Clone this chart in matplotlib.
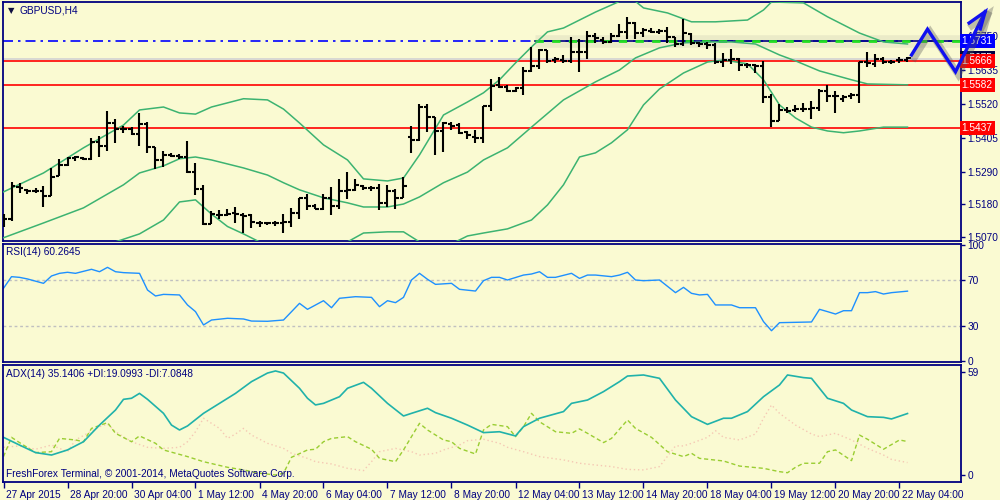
"""
GBPUSD H4 chart in the MetaTrader 4 style: OHLC bars with Bollinger bands,
RSI(14) and ADX(14) sub windows.
"""

import numpy as np
import matplotlib
matplotlib.use('Agg')  # Non-interactive backend
import matplotlib.pyplot as plt
import matplotlib.patheffects as pe
import matplotlib.transforms as mtrans

# ---- price bars (one per H4 bar, index 0 = 27 Apr 12:00) ----
opens = [
    1.5127, 1.5131, 1.5239, 1.5229, 1.5226, 1.5226, 1.5209, 1.5276, 1.5313, 1.5337,
    1.5337, 1.5334, 1.5391, 1.5378, 1.5455, 1.5435, 1.5435, 1.5418, 1.5452, 1.5374,
    1.5330, 1.5347, 1.5344, 1.5340, 1.5289, 1.5232, 1.5113, 1.5144, 1.5144, 1.5151,
    1.5144, 1.5144, 1.5117, 1.5117, 1.5117, 1.5117, 1.5120, 1.5151, 1.5202, 1.5175,
    1.5164, 1.5202, 1.5175, 1.5226, 1.5229, 1.5243, 1.5236, 1.5236, 1.5185, 1.5226,
    1.5202, 1.5408, 1.5398, 1.5509, 1.5475, 1.5428, 1.5452, 1.5448, 1.5425, 1.5408,
    1.5405, 1.5513, 1.5584, 1.5577, 1.5564, 1.5574, 1.5631, 1.5648, 1.5702, 1.5668,
    1.5668, 1.5665, 1.5695, 1.5695, 1.5749, 1.5736, 1.5729, 1.5749, 1.5763, 1.5793,
    1.5759, 1.5766, 1.5763, 1.5766, 1.5746, 1.5722, 1.5756, 1.5726, 1.5722, 1.5719,
    1.5661, 1.5668, 1.5671, 1.5651, 1.5651, 1.5648, 1.5543, 1.5462, 1.5499, 1.5499,
    1.5502, 1.5502, 1.5506, 1.5564, 1.5547, 1.5536, 1.5547, 1.5550, 1.5661, 1.5655,
    1.5671, 1.5661, 1.5668, 1.5668]
highs = [
    1.5147, 1.5256, 1.5253, 1.5232, 1.5236, 1.5243, 1.5303, 1.5334, 1.5340, 1.5344,
    1.5340, 1.5405, 1.5412, 1.5496, 1.5469, 1.5445, 1.5441, 1.5489, 1.5458, 1.5374,
    1.5361, 1.5354, 1.5350, 1.5395, 1.5320, 1.5246, 1.5158, 1.5161, 1.5164, 1.5171,
    1.5151, 1.5147, 1.5124, 1.5120, 1.5124, 1.5147, 1.5168, 1.5202, 1.5215, 1.5181,
    1.5215, 1.5239, 1.5266, 1.5289, 1.5266, 1.5246, 1.5243, 1.5249, 1.5246, 1.5232,
    1.5272, 1.5445, 1.5519, 1.5519, 1.5475, 1.5458, 1.5458, 1.5455, 1.5428, 1.5432,
    1.5513, 1.5604, 1.5611, 1.5584, 1.5577, 1.5644, 1.5712, 1.5705, 1.5702, 1.5678,
    1.5685, 1.5746, 1.5739, 1.5766, 1.5759, 1.5746, 1.5759, 1.5790, 1.5814, 1.5797,
    1.5776, 1.5776, 1.5773, 1.5780, 1.5746, 1.5807, 1.5759, 1.5729, 1.5729, 1.5726,
    1.5692, 1.5705, 1.5675, 1.5658, 1.5655, 1.5665, 1.5553, 1.5519, 1.5509, 1.5516,
    1.5523, 1.5530, 1.5570, 1.5584, 1.5564, 1.5550, 1.5557, 1.5661, 1.5695, 1.5688,
    1.5678, 1.5668, 1.5678, 1.5678]
lows = [
    1.5103, 1.5124, 1.5219, 1.5215, 1.5219, 1.5171, 1.5209, 1.5276, 1.5310, 1.5327,
    1.5330, 1.5330, 1.5340, 1.5361, 1.5388, 1.5422, 1.5415, 1.5378, 1.5354, 1.5300,
    1.5306, 1.5340, 1.5334, 1.5286, 1.5212, 1.5110, 1.5113, 1.5131, 1.5141, 1.5117,
    1.5084, 1.5100, 1.5103, 1.5110, 1.5107, 1.5084, 1.5103, 1.5131, 1.5161, 1.5164,
    1.5161, 1.5144, 1.5164, 1.5198, 1.5226, 1.5229, 1.5226, 1.5161, 1.5171, 1.5164,
    1.5202, 1.5354, 1.5395, 1.5425, 1.5347, 1.5357, 1.5432, 1.5418, 1.5401, 1.5388,
    1.5388, 1.5496, 1.5574, 1.5560, 1.5560, 1.5550, 1.5627, 1.5638, 1.5658, 1.5658,
    1.5658, 1.5658, 1.5627, 1.5671, 1.5726, 1.5722, 1.5726, 1.5746, 1.5739, 1.5739,
    1.5746, 1.5759, 1.5756, 1.5726, 1.5712, 1.5715, 1.5719, 1.5712, 1.5705, 1.5655,
    1.5644, 1.5655, 1.5631, 1.5641, 1.5624, 1.5523, 1.5441, 1.5462, 1.5489, 1.5492,
    1.5492, 1.5469, 1.5496, 1.5526, 1.5489, 1.5526, 1.5536, 1.5523, 1.5644, 1.5644,
    1.5655, 1.5655, 1.5658, 1.5661]
closes = [
    1.5131, 1.5243, 1.5236, 1.5226, 1.5226, 1.5209, 1.5272, 1.5313, 1.5337, 1.5340,
    1.5334, 1.5391, 1.5378, 1.5455, 1.5435, 1.5435, 1.5418, 1.5452, 1.5374, 1.5330,
    1.5347, 1.5344, 1.5340, 1.5289, 1.5232, 1.5113, 1.5147, 1.5144, 1.5147, 1.5147,
    1.5141, 1.5120, 1.5117, 1.5117, 1.5117, 1.5120, 1.5151, 1.5202, 1.5175, 1.5164,
    1.5202, 1.5175, 1.5226, 1.5229, 1.5246, 1.5236, 1.5236, 1.5185, 1.5226, 1.5202,
    1.5243, 1.5398, 1.5509, 1.5475, 1.5428, 1.5455, 1.5445, 1.5422, 1.5415, 1.5405,
    1.5513, 1.5580, 1.5577, 1.5564, 1.5574, 1.5631, 1.5648, 1.5702, 1.5665, 1.5671,
    1.5665, 1.5695, 1.5695, 1.5749, 1.5742, 1.5729, 1.5749, 1.5763, 1.5793, 1.5759,
    1.5770, 1.5763, 1.5766, 1.5746, 1.5722, 1.5759, 1.5726, 1.5722, 1.5719, 1.5661,
    1.5668, 1.5671, 1.5651, 1.5651, 1.5648, 1.5543, 1.5462, 1.5499, 1.5496, 1.5502,
    1.5502, 1.5506, 1.5564, 1.5547, 1.5547, 1.5543, 1.5550, 1.5661, 1.5658, 1.5671,
    1.5661, 1.5661, 1.5668, 1.5675]

# ---- Bollinger bands, read at selected bars ----
bb_up_bar = [0, 5, 10, 15, 17, 20, 22, 24, 26, 30, 33, 35, 37, 40, 43, 45, 48, 50, 52, 55,
             58, 60, 62, 64, 66, 68, 70, 72, 74, 77, 79, 80, 83, 86, 89, 93, 95, 96, 100, 103,
             107, 110, 113]
bb_up = [1.5222, 1.5286, 1.5371, 1.5448, 1.5499, 1.5509, 1.5489, 1.5485, 1.5509, 1.5537,
         1.5533, 1.5502, 1.5455, 1.5381, 1.5330, 1.5266, 1.5259, 1.5269, 1.5347, 1.5482,
         1.5526, 1.5557, 1.5601, 1.5658, 1.5712, 1.5763, 1.5776, 1.5803, 1.5830, 1.5866,
         1.5866, 1.5844, 1.5827, 1.5797, 1.5797, 1.5803, 1.5837, 1.5864, 1.5861, 1.5814,
         1.5759, 1.5729, 1.5722]
bb_mid_bar = [0, 5, 10, 15, 17, 20, 22, 24, 26, 30, 33, 35, 37, 40, 43, 45, 48, 50, 52, 55,
              58, 60, 63, 66, 70, 74, 77, 79, 82, 85, 88, 91, 94, 97, 99, 102, 106, 108, 113]
bb_mid = [1.5067, 1.5117, 1.5168, 1.5246, 1.5286, 1.5310, 1.5334, 1.5340, 1.5330, 1.5303,
          1.5279, 1.5253, 1.5229, 1.5202, 1.5185, 1.5171, 1.5171, 1.5181, 1.5205, 1.5253,
          1.5289, 1.5330, 1.5371, 1.5441, 1.5533, 1.5594, 1.5634, 1.5675, 1.5709, 1.5726,
          1.5729, 1.5729, 1.5722, 1.5685, 1.5665, 1.5631, 1.5601, 1.5587, 1.5584]
bb_lo_bar = [0, 5, 10, 14, 17, 20, 22, 24, 26, 28, 30, 32, 36, 40, 43, 45, 48, 50, 52, 55,
             58, 60, 63, 66, 68, 70, 72, 74, 76, 78, 80, 82, 85, 88, 90, 93, 95, 97, 99, 101,
             103, 105, 107, 110, 113]
bb_lo = [1.4985, 1.5009, 1.5026, 1.5053, 1.5080, 1.5127, 1.5188, 1.5195, 1.5147, 1.5105,
         1.5080, 1.5053, 1.5026, 1.5033, 1.5053, 1.5083, 1.5087, 1.5087, 1.5053, 1.5033,
         1.5073, 1.5083, 1.5097, 1.5127, 1.5178, 1.5246, 1.5340, 1.5354, 1.5388, 1.5432,
         1.5516, 1.5570, 1.5624, 1.5661, 1.5668, 1.5655, 1.5601, 1.5516, 1.5472, 1.5441,
         1.5428, 1.5422, 1.5428, 1.5441, 1.5441]

# ---- horizontal levels ----
red_levels = [1.5666, 1.5582, 1.5437]
blue_level = 1.5731
bid_level = 1.5672
bid_label = 1.5675
price_ticks = [1.5070, 1.5180, 1.5290, 1.5405, 1.5520, 1.5635, 1.5750]

# hand drawn zigzag arrow (bar index, price)
arrow_bar = [113.5, 115.5, 119.0, 122.7]
arrow_price = [1.5685, 1.5772, 1.5628, 1.5831]
arrow_head_bar = [120.7, 122.7, 122.1]
arrow_head_price = [1.5793, 1.5831, 1.5773]

# ---- RSI(14) ----
rsi_bar = [0, 1, 2, 3, 5, 6, 7, 8, 9, 11, 12, 13, 14, 15, 17, 18, 19, 20, 22, 23,
           24, 25, 26, 28, 30, 31, 33, 35, 37, 38, 40, 41, 42, 44, 46, 47, 48, 49, 50, 51,
           52, 53, 54, 56, 57, 59, 60, 61, 62, 63, 65, 66, 67, 68, 69, 71, 72, 73, 74, 76,
           77, 78, 79, 80, 82, 84, 85, 86, 87, 88, 89, 91, 92, 94, 95, 96, 97, 101, 102, 103,
           104, 105, 106, 107, 108, 109, 110, 111, 113]
rsi_val = [62.8, 72.9, 72.3, 70.9, 67.1, 73.5, 75.8, 76.7, 75.8, 79.3,
           77.2, 81.0, 77.2, 76.4, 75.8, 61.3, 56.1, 57.5, 57.0, 48.3,
           42.5, 30.9, 35.2, 36.7, 36.1, 34.3, 34.1, 35.2, 49.7, 44.5,
           52.0, 45.9, 54.1, 55.5, 54.9, 46.8, 52.0, 50.3, 54.9, 70.0,
           75.8, 70.6, 66.2, 67.1, 61.9, 60.4, 69.4, 72.3, 72.3, 70.0,
           74.3, 75.2, 77.2, 72.3, 72.3, 75.8, 71.4, 74.3, 74.3, 72.9,
           74.3, 76.7, 70.0, 69.4, 70.0, 59.0, 63.6, 58.4, 57.0, 57.5,
           48.3, 48.3, 45.9, 45.9, 33.8, 25.9, 32.9, 33.5, 44.5, 42.5,
           40.4, 43.3, 43.3, 59.0, 59.0, 59.9, 57.8, 59.0, 60.3]
rsi_levels = [30, 70]

# ---- ADX(14), +DI, -DI ----
adx_bar = [0, 2, 4, 6, 8, 10, 12, 14, 15, 16, 17, 18, 20, 21, 22, 23, 25, 27, 29, 31,
           33, 34, 35, 37, 38, 39, 40, 42, 43, 45, 46, 48, 50, 51, 53, 54, 56, 58, 60, 62,
           64, 65, 67, 70, 71, 73, 75, 77, 78, 80, 82, 84, 86, 88, 90, 91, 93, 95, 97, 98,
           100, 101, 103, 105, 106, 108, 110, 111, 113]
adx_val = [21.5, 17.1, 12.8, 11.4, 14.3, 19.0, 28.5, 37.1, 43.2, 43.8,
           46.6, 43.2, 35.2, 28.5, 25.7, 28.0, 35.2, 40.9, 46.6, 53.3,
           58.2, 59.4, 58.2, 49.5, 43.8, 40.0, 40.9, 44.7, 49.5, 52.9,
           49.5, 40.9, 33.7, 35.2, 38.1, 35.6, 32.4, 28.5, 24.2, 24.7,
           22.3, 27.6, 32.4, 36.2, 40.9, 42.8, 47.6, 53.3, 56.5, 57.1,
           55.2, 42.8, 33.3, 28.9, 32.4, 32.4, 36.2, 44.7, 51.4, 57.1,
           55.6, 55.2, 43.8, 40.9, 37.1, 33.3, 32.9, 32.0, 35.1]
pdi_bar = [0, 1, 2, 4, 6, 7, 9, 10, 11, 13, 14, 16, 17, 19, 20, 23, 25, 28, 30, 32,
           34, 35, 36, 38, 39, 40, 41, 43, 44, 46, 47, 49, 50, 52, 53, 55, 56, 57, 59, 60,
           61, 63, 64, 65, 66, 67, 69, 71, 72, 73, 75, 76, 78, 79, 81, 83, 85, 86, 87, 90,
           92, 95, 97, 98, 99, 100, 102, 103, 104, 106, 107, 108, 110, 112, 113]
pdi_val = [10.5, 21.5, 18.5, 12.8, 13.3, 20.9, 20.0, 19.0, 26.6, 29.9,
           23.8, 19.0, 22.3, 18.1, 14.3, 10.5, 7.6, 4.4, 2.9, 1.0,
           0.0, 1.0, 10.1, 14.3, 14.7, 19.0, 20.9, 21.9, 19.0, 14.7,
           9.5, 7.6, 14.3, 29.5, 25.7, 20.0, 19.0, 15.2, 12.0, 25.7,
           28.9, 27.6, 21.9, 27.6, 35.2, 30.4, 24.7, 23.8, 26.3, 23.8,
           18.5, 20.9, 31.4, 26.6, 21.5, 13.3, 10.5, 12.4, 9.5, 8.0,
           5.1, 3.8, 1.9, 1.3, 4.4, 6.7, 6.7, 13.3, 14.3, 8.2,
           22.8, 20.4, 14.7, 20.0, 19.1]
mdi_bar = [0, 2, 4, 6, 8, 9, 12, 13, 14, 16, 18, 20, 22, 23, 24, 25, 27, 28, 29, 30,
           31, 33, 35, 36, 38, 39, 41, 43, 45, 46, 47, 49, 51, 52, 54, 55, 57, 58, 60, 62,
           63, 65, 67, 70, 72, 74, 76, 78, 80, 82, 84, 85, 86, 88, 89, 90, 92, 94, 95, 96,
           97, 99, 101, 102, 104, 106, 108, 110, 111, 113]
mdi_val = [15.8, 16.6, 14.7, 17.1, 13.3, 20.0, 27.6, 29.1, 24.7, 19.0,
           15.8, 15.2, 15.8, 19.0, 24.7, 32.4, 26.6, 20.9, 23.4, 26.6,
           22.8, 18.1, 15.2, 12.4, 9.5, 7.6, 6.3, 3.8, 2.5, 7.6,
           13.3, 15.2, 13.3, 11.4, 12.4, 14.3, 17.1, 19.6, 20.4, 18.1,
           15.8, 13.3, 10.5, 8.6, 6.7, 5.7, 4.8, 3.2, 2.9, 4.8,
           16.6, 16.6, 18.1, 21.5, 25.3, 21.5, 20.0, 23.4, 32.4, 40.0,
           35.2, 28.5, 23.4, 21.9, 23.8, 20.0, 15.2, 11.4, 8.9, 7.1]

# ---- time axis ----
date_bar = [0, 8, 16, 24, 32, 40, 48, 56, 64, 72, 80, 88, 96, 104, 112]
date_labels = ["27 Apr 2015", "28 Apr 20:00", "30 Apr 04:00", "1 May 12:00",
               "4 May 20:00", "6 May 04:00", "7 May 12:00", "8 May 20:00",
               "12 May 04:00", "13 May 12:00", "14 May 20:00", "18 May 04:00",
               "19 May 12:00", "20 May 20:00", "22 May 04:00"]

BG = '#FAFAD2'
NAVY = '#000080'
plt.rcParams['font.family'] = ['Liberation Sans', 'DejaVu Sans']
FS = 7.3

fig = plt.figure(figsize=(10, 5), dpi=100, facecolor=BG)
ax = fig.add_axes([0.0027, 0.518, 0.958, 0.478])
ax_rsi = fig.add_axes([0.0027, 0.276, 0.958, 0.236])
ax_adx = fig.add_axes([0.0027, 0.036, 0.958, 0.234])

for a in (ax, ax_rsi, ax_adx):
    a.set_facecolor(BG)
    a.set_xlim(-0.1, 119.65)
    for s in a.spines.values():
        s.set_color(NAVY)
        s.set_linewidth(1.3)
    a.yaxis.set_ticks_position('right')
    a.tick_params(axis='y', direction='out', length=3, width=1, pad=2,
                  colors=NAVY, labelsize=FS)
    a.set_xticks([])

# ---- main window ----
bars = np.arange(len(closes))
o = np.array(opens)
c = np.array(closes)

ax.set_ylim(1.5056, 1.5864)
ax.set_yticks(price_ticks)
ax.set_yticklabels(['%.4f' % p for p in price_ticks])

# levels
for lv in red_levels:
    ax.axhline(lv, color='red', lw=1.2, zorder=2)
ax.axhline(bid_level, color='#D3D3D3', lw=1.2, zorder=1)
ax.axhline(blue_level, color='#0000FF', lw=1.2, dashes=(6, 3, 1.5, 3), zorder=2)
ax.plot([66.4, 119.65], [blue_level, blue_level], color='grey', lw=9, alpha=0.12,
        solid_capstyle='butt', zorder=2)
ax.plot([66.4, 119.65], [blue_level, blue_level], color=NAVY, lw=1.2, zorder=3)
ax.plot([66.4, 119.65], [blue_level, blue_level], color='#22DD22', lw=2,
        dashes=(3, 3), zorder=3)

# bollinger bands
for bx, by in ((bb_up_bar, bb_up), (bb_mid_bar, bb_mid), (bb_lo_bar, bb_lo)):
    ax.plot(bx, by, color='#3CB371', lw=1.1, zorder=4)

# OHLC bars
ax.vlines(bars, lows, highs, color='black', lw=1.5, zorder=5)
ax.hlines(o, bars - 0.42, bars, color='black', lw=1.5, zorder=5)
ax.hlines(c, bars, bars + 0.42, color='black', lw=1.5, zorder=5)

# price labels on the right scale
ytr = ax.get_yaxis_transform()
box = dict(boxstyle='square,pad=0.2', ec='none')
ax.text(1.001, bid_label, '%.4f' % bid_label, transform=ytr, color='white',
        fontsize=FS, va='center', ha='left', clip_on=False, zorder=9,
        bbox=dict(box, fc='#000040'))
ax.text(1.001, blue_level, '%.4f' % blue_level, transform=ytr, color='white',
        fontsize=FS, va='center', ha='left', clip_on=False, zorder=10,
        bbox=dict(box, fc='#0000FF'))
for lv in red_levels:
    ax.text(1.001, lv, '%.4f' % lv, transform=ytr, color='white', fontsize=FS,
            va='center', ha='left', clip_on=False, zorder=10,
            bbox=dict(box, fc='#FF0000'))

# drawn arrow with shadow
shadow = [pe.SimpleLineShadow(offset=(2, -2), shadow_color='#555555', alpha=0.35,
                              linewidth=5), pe.Normal()]
ax.plot(arrow_bar, arrow_price, color='#1010F0', lw=2.4, clip_on=False, zorder=12,
        solid_joinstyle='miter', path_effects=shadow)
ax.plot(arrow_head_bar, arrow_head_price, color='#1010F0', lw=2.4, clip_on=False,
        zorder=12, solid_joinstyle='miter', path_effects=shadow)

ax.text(0.006, 0.965, u'\u25BC', transform=ax.transAxes, fontsize=6,
        color='#101040', va='center', ha='left', family='DejaVu Sans')
ax.text(0.018, 0.965, 'GBPUSD,H4', transform=ax.transAxes, fontsize=FS,
        color=NAVY, va='center', ha='left')

# ---- RSI window ----
ax_rsi.set_ylim(-1.3, 101.3)
ax_rsi.set_yticks([0, 30, 70, 100])
for lv in rsi_levels:
    ax_rsi.axhline(lv, color='#C0C0C0', lw=1, dashes=(2, 2))
ax_rsi.plot(rsi_bar, rsi_val, color='#1E90FF', lw=1)
ax_rsi.text(0.003, 0.93, 'RSI(14) 60.2645', transform=ax_rsi.transAxes,
            fontsize=FS, color=NAVY, va='center', ha='left')

# ---- ADX window ----
ax_adx.set_ylim(-4.0, 62.8)
ax_adx.set_yticks([0, 59])
ax_adx.plot(mdi_bar, mdi_val, color='#F5C8B4', lw=1, dashes=(1, 2))
ax_adx.plot(pdi_bar, pdi_val, color='#9ACD32', lw=1, dashes=(3, 2))
ax_adx.plot(adx_bar, adx_val, color='#20B2AA', lw=1.2)
ax_adx.text(0.003, 0.92, 'ADX(14) 35.1406 +DI:19.0993 -DI:7.0848',
            transform=ax_adx.transAxes, fontsize=FS, color=NAVY, va='center', ha='left')
ax_adx.text(0.003, 0.07, u'FreshForex Terminal, \u00a9 2001-2014, MetaQuotes Software Corp.',
            transform=ax_adx.transAxes, fontsize=FS, color=NAVY, va='center', ha='left')

ax_adx.set_xticks(date_bar)
ax_adx.set_xticklabels(date_labels)
ax_adx.tick_params(axis='x', direction='out', length=4, width=1, pad=1.5,
                   colors=NAVY, labelsize=FS)
shift = mtrans.ScaledTranslation(2 / 72, 0, fig.dpi_scale_trans)
for lbl in ax_adx.get_xticklabels():
    lbl.set_ha('left')
    lbl.set_transform(lbl.get_transform() + shift)

fig.savefig('out.png', dpi=100, facecolor=BG)
plt.close(fig)
